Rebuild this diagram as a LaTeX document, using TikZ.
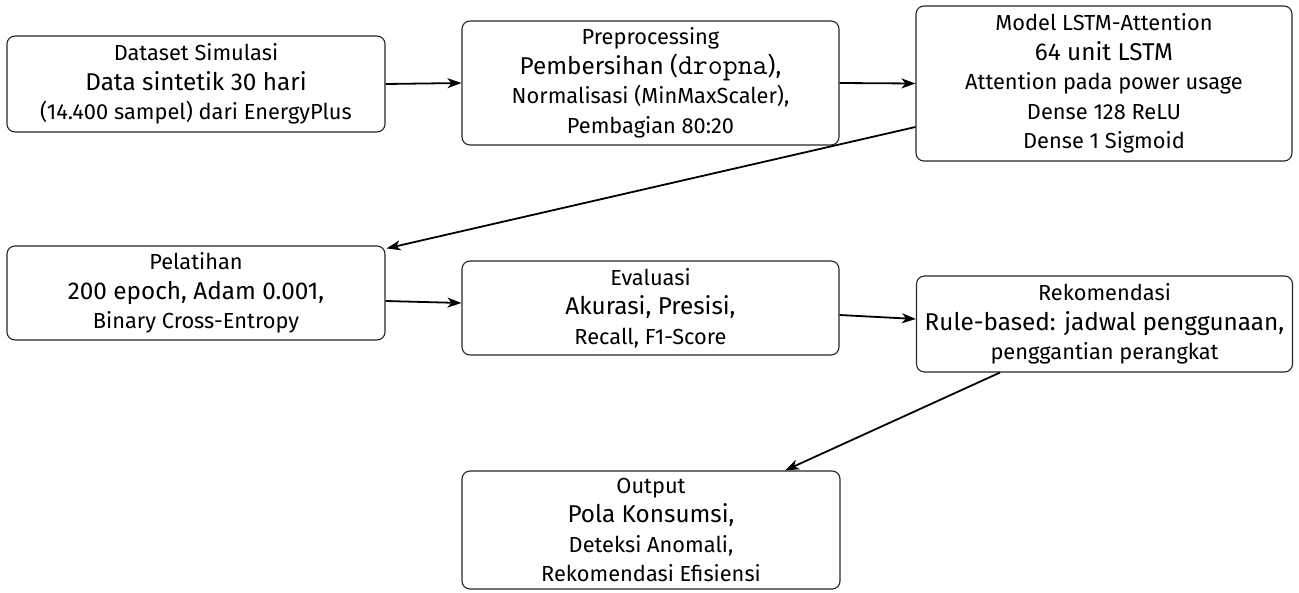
\documentclass[tikz,border=0pt]{standalone}
\usepackage{fontspec}
\setmainfont{Fira Sans}
\usetikzlibrary{arrows.meta}
\newcommand\tsmall{\fontsize{21.8}{29.5}\selectfont}
\newcommand\tbig{\fontsize{24.3}{29.5}\selectfont}
\newcommand\tcode[1]{{\fontsize{29}{29.5}\ttfamily\selectfont #1}}
\tikzset{
  box/.style={draw=black!85, line width=1.1pt, rounded corners=8pt, inner sep=0pt, align=center, font=\tsmall},
  conn/.style={line width=1.8pt, -{Stealth[length=14pt,width=10pt,inset=4pt]}},
}
\begin{document}
\begin{tikzpicture}[x=1pt,y=-1pt]
\useasboundingbox (0,0) rectangle (1299,592);
\node[box, minimum width=378pt, minimum height=96pt] (ds) at (196,84) {Dataset Simulasi\\ {\tbig Data sintetik 30 hari}\\ (14.400 sampel) dari EnergyPlus};
\node[box, minimum width=377pt, minimum height=124pt] (pre) at (650.5,83) {Preprocessing\\ {\tbig Pembersihan (\tcode{dropna}),}\\ Normalisasi (MinMaxScaler),\\ Pembagian 80:20};
\node[box, minimum width=376pt, minimum height=155pt] (mod) at (1104,83.5) {Model LSTM-Attention\\ {\tbig 64 unit LSTM}\\ Attention pada power usage\\ Dense 128 ReLU\\ Dense 1 Sigmoid};
\node[box, minimum width=378pt, minimum height=94pt] (pel) at (196,293) {Pelatihan\\ {\tbig 200 epoch, Adam 0.001,}\\ Binary Cross-Entropy};
\node[box, minimum width=377pt, minimum height=94pt] (eva) at (650.5,308) {Evaluasi\\ {\tbig Akurasi, Presisi,}\\ Recall, F1-Score};
\node[box, minimum width=376pt, minimum height=96pt] (rek) at (1104.5,324) {Rekomendasi\\ {\tbig Rule-based: jadwal penggunaan,}\\ penggantian perangkat};
\node[box, minimum width=378pt, minimum height=118pt] (out) at (651,530) {Output\\ {\tbig Pola Konsumsi,}\\ Deteksi Anomali,\\ Rekomendasi Efisiensi};
\draw[conn] (ds.east) -- (pre.west);
\draw[conn] (pre.east) -- (mod.west);
\draw[conn] ([yshift=-43.5pt]mod.west) -- ([xshift=1pt,yshift=-3pt]pel.north east);
\draw[conn] ([yshift=-8pt]pel.east) -- ([yshift=5pt]eva.west);
\draw[conn] ([yshift=-7pt]eva.east) -- ([yshift=5pt]rek.west);
\draw[conn] ([xshift=-104.5pt]rek.south) -- ([xshift=134pt]out.north);
\end{tikzpicture}
\end{document}
